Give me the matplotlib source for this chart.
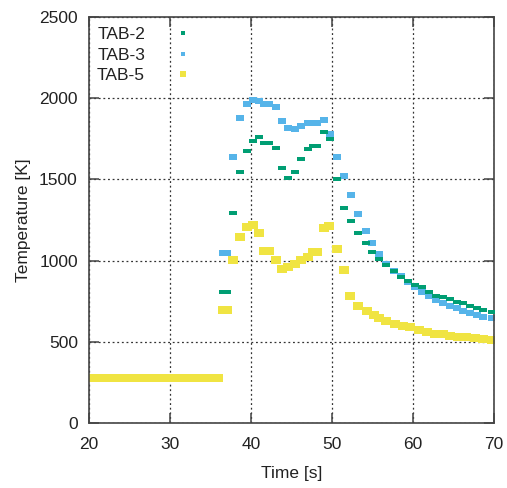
import matplotlib
matplotlib.use("Agg")
import matplotlib.pyplot as plt
from matplotlib.lines import Line2D

plt.rcParams['font.family'] = ['Liberation Sans', 'DejaVu Sans']

# time [s] and temperature [K]
t_main = [36.6, 37.1, 37.8, 38.6, 39.5, 40.3, 41.0, 41.6, 42.2, 43.1, 43.8,
          44.6, 45.4, 46.2, 47.0, 47.6, 48.2, 49.0, 49.8, 50.6, 51.5, 52.3,
          53.2, 54.2, 55.0, 55.8, 56.7, 57.6, 58.5, 59.4, 60.2, 61.1, 62.0,
          62.9, 63.7, 64.6, 65.4, 66.2, 67.0, 67.9, 68.7, 69.7]

tab2 = [807, 807, 1291, 1546, 1675, 1738, 1763, 1722, 1722, 1693, 1568,
        1507, 1544, 1626, 1685, 1706, 1706, 1790, 1747, 1502, 1322, 1244,
        1172, 1110, 1055, 1010, 973, 938, 901, 876, 850, 835, 809,
        782, 774, 762, 747, 737, 722, 710, 696, 685]

tab3 = [1049, 1049, 1636, 1876, 1964, 1989, 1985, 1964, 1964, 1948, 1858,
        1814, 1808, 1829, 1845, 1845, 1845, 1866, 1782, 1640, 1523, 1404,
        1285, 1182, 1106, 1041, 977, 938, 905, 870, 839, 809, 782,
        757, 741, 720, 706, 690, 675, 665, 655, 645]

t_tab5 = [20.2, 21.0, 22.0, 23.0, 24.0, 25.0, 26.0, 27.0, 28.0, 29.0, 30.0,
          31.0, 32.0, 33.0, 34.0, 35.0, 35.9,
          36.6, 37.1, 37.8, 38.6, 39.5, 40.3, 41.0, 41.6, 42.2, 43.1, 43.8,
          44.6, 45.4, 46.2, 47.0, 47.6, 48.2, 49.0, 49.6, 50.6, 51.5, 52.2,
          53.2, 54.3, 55.2, 55.8, 56.7, 57.8, 58.8, 59.6, 60.7, 61.7, 62.7,
          63.7, 64.6, 65.6, 66.6, 67.7, 68.7, 69.7]

tab5 = [280, 280, 280, 280, 280, 280, 280, 280, 280, 280, 280,
        280, 280, 280, 280, 280, 280,
        698, 698, 1002, 1143, 1205, 1219, 1172, 1061, 1061, 1002, 950,
        959, 977, 1002, 1024, 1055, 1055, 1203, 1213, 1071, 940, 782,
        720, 690, 665, 648, 628, 610, 599, 589, 573, 558, 550,
        546, 538, 531, 527, 521, 515, 511]

labels = ['TAB-2', 'TAB-3', 'TAB-5']
colors = ['#009e73', '#56b4e9', '#f0e442']


def dash(h):
    # flat rectangle marker, width 2, height 2*h
    return [(-1, -h), (1, -h), (1, h), (-1, h), (-1, -h)]


fig = plt.figure(figsize=(5.07, 4.88), dpi=100)
ax = fig.add_axes([0.1755, 0.1332, 0.7988, 0.832])

ax.plot(t_main, tab2, ls='none', marker=dash(0.62), ms=5.2, mew=0, color=colors[0], zorder=3)
ax.plot(t_main, tab3, ls='none', marker=dash(0.66), ms=5.8, mew=0, color=colors[1], zorder=2)
ax.plot(t_tab5, tab5, ls='none', marker=dash(0.75), ms=6.8, mew=0, color=colors[2], zorder=1)

ax.set_xlim(20, 70)
ax.set_ylim(0, 2500)
ax.set_xticks([20, 30, 40, 50, 60, 70])
ax.set_yticks([0, 500, 1000, 1500, 2000, 2500])

ax.grid(True, color='#333333', linestyle=(0, (1.5, 2.2)), linewidth=0.9)
ax.set_axisbelow(True)

for s in ax.spines.values():
    s.set_color('#444444')
    s.set_linewidth(1.2)

ax.tick_params(direction='in', length=7, width=1.1, color='#444444',
               top=True, right=True, labelsize=12.5, labelcolor='#222222')
ax.tick_params(axis='x', pad=10)
ax.tick_params(axis='y', pad=8)

ax.set_xlabel('Time [s]', fontsize=12.5, color='#222222', labelpad=10)
ax.set_ylabel('Temperature [K]', fontsize=12.5, color='#222222', labelpad=6)

handles = [Line2D([], [], ls='none', marker='s', ms=2.8, mew=0, color=colors[0]),
           Line2D([], [], ls='none', marker='s', ms=2.8, mew=0, color=colors[1]),
           Line2D([], [], ls='none', marker='s', ms=4.3, mew=0, color=colors[2])]
ax.legend(handles, labels, loc='upper left', bbox_to_anchor=(0.02, 0.975),
          frameon=False, markerfirst=False, borderaxespad=0, borderpad=0,
          handlelength=2.0, handletextpad=1.2, labelspacing=0.3,
          fontsize=12.5, labelcolor='#222222')

fig.savefig('out.png', dpi=100)
